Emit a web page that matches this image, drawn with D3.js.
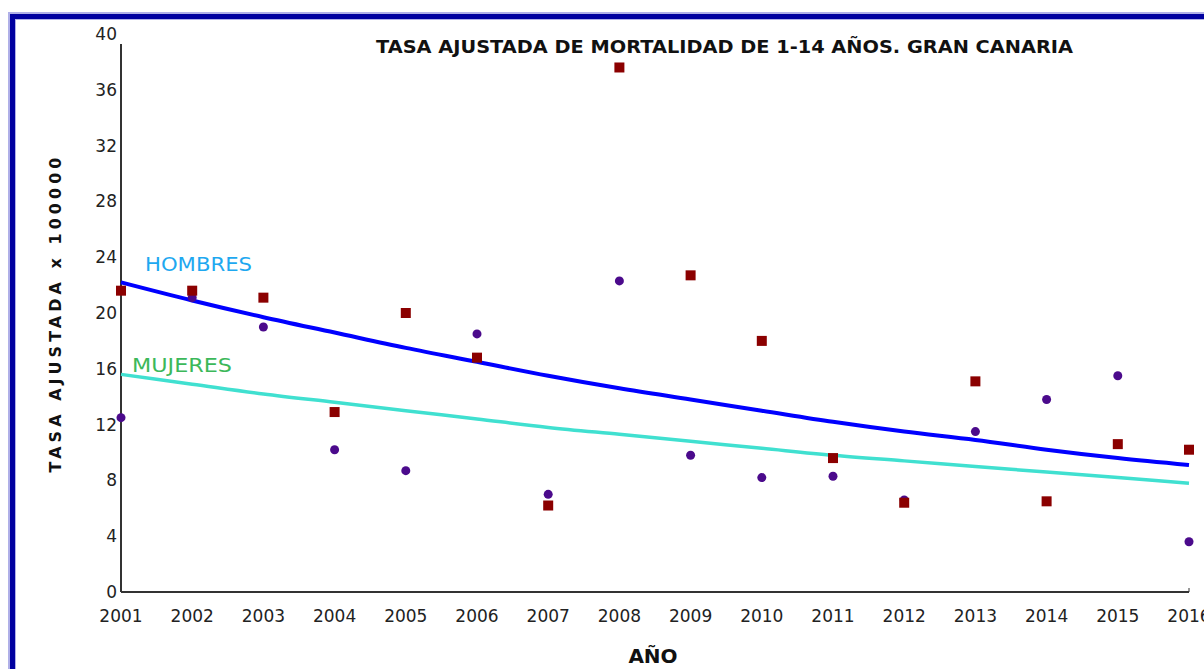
<!DOCTYPE html>
<html>
<head>
<meta charset="utf-8">
<script src="https://cdn.jsdelivr.net/npm/d3@7"></script>
<style>
  body { margin: 0; background: #fff; }
  text { font-family: "DejaVu Sans", Verdana, sans-serif; }
</style>
</head>
<body>
<svg width="1204" height="669"></svg>
<script>
// data
const years = [2001, 2002, 2003, 2004, 2005, 2006, 2007, 2008, 2009, 2010, 2011, 2012, 2013, 2014, 2015, 2016];
const hombres = [21.6, 21.6, 21.1, 12.9, 20.0, 16.8, 6.2, 37.6, 22.7, 18.0, 9.6, 6.4, 15.1, 6.5, 10.6, 10.2];
const mujeres = [12.5, 21.1, 19.0, 10.2, 8.7, 18.5, 7.0, 22.3, 9.8, 8.2, 8.3, 6.6, 11.5, 13.8, 15.5, 3.6];
const trendH = [22.2, 20.9, 19.7, 18.6, 17.5, 16.5, 15.5, 14.6, 13.8, 13.0, 12.2, 11.5, 10.9, 10.2, 9.6, 9.1];
const trendM = [15.6, 14.9, 14.2, 13.6, 13.0, 12.4, 11.8, 11.3, 10.8, 10.3, 9.8, 9.4, 9.0, 8.6, 8.2, 7.8];
const yTicks = [0, 4, 8, 12, 16, 20, 24, 28, 32, 36, 40];

const svg = d3.select('svg');

// frame
svg.append('path')
  .attr('d', 'M12,669 V16 H1204')
  .attr('fill', 'none')
  .attr('stroke', '#b0b0e8')
  .attr('stroke-width', 8);
svg.append('path')
  .attr('d', 'M12.5,669 V16.5 H1204')
  .attr('fill', 'none')
  .attr('stroke', '#0000a0')
  .attr('stroke-width', 5);

const x = d3.scaleLinear().domain([2001, 2016]).range([121, 1189]);
const y = d3.scaleLinear().domain([0, 40]).range([592, 34]);

// axes
svg.append('line')
  .attr('x1', 121).attr('x2', 121)
  .attr('y1', y(0)).attr('y2', 44)
  .attr('stroke', '#333').attr('stroke-width', 2);
svg.append('line')
  .attr('x1', 121).attr('x2', x(2016))
  .attr('y1', y(0)).attr('y2', y(0))
  .attr('stroke', '#333').attr('stroke-width', 2);
svg.append('line')
  .attr('x1', x(2016)).attr('x2', x(2016))
  .attr('y1', y(0)).attr('y2', y(0) - 4)
  .attr('stroke', '#333').attr('stroke-width', 1);

svg.append('g').selectAll('text')
  .data(yTicks)
  .enter()
  .append('text')
  .attr('x', 117)
  .attr('y', d => y(d) + 6)
  .attr('text-anchor', 'end')
  .attr('font-size', 17)
  .attr('fill', '#222')
  .text(d => d);

svg.append('g').selectAll('text')
  .data(years)
  .enter()
  .append('text')
  .attr('x', d => x(d))
  .attr('y', 622)
  .attr('text-anchor', 'middle')
  .attr('font-size', 17)
  .attr('fill', '#222')
  .text(d => d);

// trend lines
const line = d3.line()
  .x((d, i) => x(years[i]))
  .y(d => y(d))
  .curve(d3.curveMonotoneX);

svg.append('path')
  .datum(trendM)
  .attr('d', line)
  .attr('fill', 'none')
  .attr('stroke', '#40e0d0')
  .attr('stroke-width', 3.5);

svg.append('path')
  .datum(trendH)
  .attr('d', line)
  .attr('fill', 'none')
  .attr('stroke', '#0000ff')
  .attr('stroke-width', 4);

// points
svg.append('g').selectAll('circle')
  .data(mujeres)
  .enter()
  .append('circle')
  .attr('cx', (d, i) => x(years[i]))
  .attr('cy', d => y(d))
  .attr('r', 4.5)
  .attr('fill', '#4b0a8c');

svg.append('g').selectAll('rect')
  .data(hombres)
  .enter()
  .append('rect')
  .attr('x', (d, i) => x(years[i]) - 5)
  .attr('y', d => y(d) - 5)
  .attr('width', 10)
  .attr('height', 10)
  .attr('fill', '#8b0000');

// series labels
svg.append('text')
  .attr('x', 145).attr('y', 271)
  .attr('font-size', 20)
  .attr('fill', '#1ea8f0')
  .attr('textLength', 107)
  .attr('lengthAdjust', 'spacingAndGlyphs')
  .text('HOMBRES');

svg.append('text')
  .attr('x', 132).attr('y', 372)
  .attr('font-size', 20)
  .attr('fill', '#3cb85a')
  .attr('textLength', 100)
  .attr('lengthAdjust', 'spacingAndGlyphs')
  .text('MUJERES');

// titles
svg.append('text')
  .attr('x', 376).attr('y', 53)
  .attr('font-size', 18)
  .attr('font-weight', 'bold')
  .attr('fill', '#111')
  .attr('textLength', 697)
  .attr('lengthAdjust', 'spacingAndGlyphs')
  .text('TASA AJUSTADA DE MORTALIDAD DE 1-14 AÑOS. GRAN CANARIA');

svg.append('text')
  .attr('transform', 'translate(61,315) rotate(-90)')
  .attr('text-anchor', 'middle')
  .attr('font-size', 16)
  .attr('font-weight', 'bold')
  .attr('fill', '#111')
  .attr('textLength', 315)
  .attr('lengthAdjust', 'spacing')
  .text('TASA AJUSTADA  x 100000');

svg.append('text')
  .attr('x', 653).attr('y', 663)
  .attr('text-anchor', 'middle')
  .attr('font-size', 20)
  .attr('font-weight', 'bold')
  .attr('fill', '#111')
  .text('AÑO');
</script>
</body>
</html>
